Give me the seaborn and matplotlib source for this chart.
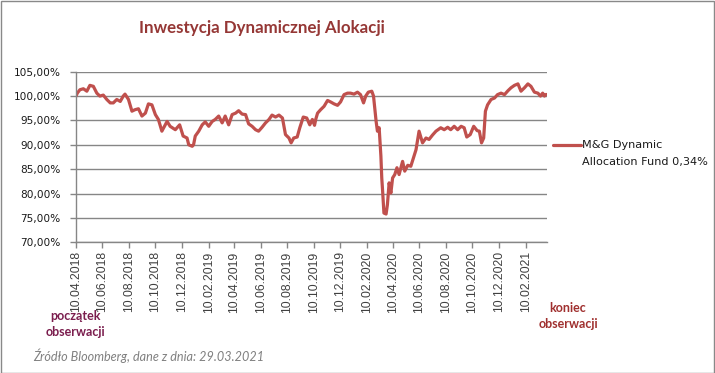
import matplotlib
matplotlib.use("Agg")
import matplotlib.pyplot as plt
import matplotlib.dates as mdates
from matplotlib.ticker import FuncFormatter, FixedLocator
from matplotlib.patches import Rectangle
from matplotlib.lines import Line2D
import seaborn as sns
import pandas as pd

# ---- data ----
dates = [
    "2018-04-10", "2018-04-13", "2018-04-19", "2018-04-27", "2018-05-05", "2018-05-12", "2018-05-20",
    "2018-05-28", "2018-06-04", "2018-06-12", "2018-06-20", "2018-06-28", "2018-07-05", "2018-07-13",
    "2018-07-21", "2018-07-28", "2018-08-01", "2018-08-09", "2018-08-17", "2018-08-24", "2018-09-01",
    "2018-09-09", "2018-09-17", "2018-09-24", "2018-10-02", "2018-10-10", "2018-10-17", "2018-10-25",
    "2018-11-06", "2018-11-13", "2018-11-25", "2018-12-05", "2018-12-13", "2018-12-22", "2018-12-26",
    "2019-01-03", "2019-01-06", "2019-01-10", "2019-01-18", "2019-01-26", "2019-02-02", "2019-02-10",
    "2019-02-18", "2019-02-25", "2019-03-05", "2019-03-13", "2019-03-20", "2019-03-28", "2019-04-05",
    "2019-04-13", "2019-04-20", "2019-04-28", "2019-05-06", "2019-05-13", "2019-05-21", "2019-05-29",
    "2019-06-05", "2019-06-13", "2019-06-21", "2019-06-29", "2019-07-06", "2019-07-14", "2019-07-22",
    "2019-07-30", "2019-08-06", "2019-08-14", "2019-08-19", "2019-08-25", "2019-09-02", "2019-09-08",
    "2019-09-16", "2019-09-24", "2019-10-01", "2019-10-07", "2019-10-12", "2019-10-15", "2019-10-19",
    "2019-10-26", "2019-11-03", "2019-11-11", "2019-11-18", "2019-11-26", "2019-12-04", "2019-12-11",
    "2019-12-19", "2019-12-27", "2020-01-03", "2020-01-11", "2020-01-19", "2020-01-26", "2020-02-02",
    "2020-02-07", "2020-02-13", "2020-02-21", "2020-02-25", "2020-03-02", "2020-03-05", "2020-03-09",
    "2020-03-13", "2020-03-15", "2020-03-17", "2020-03-20", "2020-03-25", "2020-03-28", "2020-04-01",
    "2020-04-05", "2020-04-09", "2020-04-14", "2020-04-19", "2020-04-24", "2020-05-02", "2020-05-07",
    "2020-05-14", "2020-05-21", "2020-05-27", "2020-06-02", "2020-06-06", "2020-06-09", "2020-06-17",
    "2020-06-25", "2020-07-02", "2020-07-10", "2020-07-18", "2020-07-29", "2020-08-06", "2020-08-14",
    "2020-08-21", "2020-08-29", "2020-09-06", "2020-09-14", "2020-09-21", "2020-09-27", "2020-10-05",
    "2020-10-13", "2020-10-21", "2020-10-26", "2020-10-31", "2020-11-05", "2020-11-09", "2020-11-14",
    "2020-11-22", "2020-11-30", "2020-12-07", "2020-12-15", "2020-12-23", "2020-12-31", "2021-01-07",
    "2021-01-15", "2021-01-23", "2021-01-30", "2021-02-07", "2021-02-15", "2021-02-22", "2021-03-02",
    "2021-03-10", "2021-03-16", "2021-03-21", "2021-03-25", "2021-03-29",
]
values = [
    100.0, 100.6, 101.3, 101.5, 101.0, 102.2, 102.0,
    100.6, 100.0, 100.2, 99.3, 98.6, 98.6, 99.3,
    98.9, 100.0, 100.4, 99.3, 96.9, 97.2, 97.4,
    95.9, 96.5, 98.4, 98.2, 96.2, 95.2, 92.8,
    94.8, 93.8, 93.1, 94.1, 91.8, 91.4, 90.0,
    89.7, 90.0, 91.8, 92.8, 94.1, 94.7, 93.8,
    94.8, 95.2, 95.9, 94.5, 95.9, 94.1, 96.2,
    96.5, 97.0, 96.3, 96.2, 94.3, 93.8, 93.1,
    92.8, 93.6, 94.5, 95.2, 96.1, 95.7, 96.1,
    95.5, 92.1, 91.4, 90.4, 91.4, 91.6, 93.5,
    95.7, 95.5, 94.1, 95.2, 94.0, 95.3, 96.5,
    97.2, 97.9, 99.1, 98.8, 98.4, 98.1, 98.8,
    100.3, 100.6, 100.6, 100.4, 100.8, 100.3, 98.6,
    100.0, 100.8, 101.0, 100.0, 94.8, 92.8, 93.5,
    87.7, 83.2, 80.5, 76.0, 75.8, 77.7, 82.2,
    80.1, 83.2, 83.9, 85.3, 83.9, 86.6, 84.6,
    85.8, 85.6, 87.3, 89.0, 91.1, 92.8, 90.4,
    91.4, 91.1, 92.0, 92.8, 93.5, 93.1, 93.6,
    93.1, 93.8, 93.1, 93.8, 93.5, 91.6, 92.1,
    93.8, 92.9, 92.8, 90.4, 91.4, 96.9, 98.2,
    99.3, 99.6, 100.3, 100.6, 100.3, 101.1, 101.7,
    102.2, 102.5, 101.0, 101.7, 102.5, 102.0, 100.8,
    100.6, 100.0, 100.6, 100.0, 100.34,
]
legend_lines = ["M&G Dynamic", "Allocation Fund 0,34%"]
title = "Inwestycja Dynamicznej Alokacji"
y_ticks = [70, 75, 80, 85, 90, 95, 100, 105]
x_tick_dates = ["2018-04-10", "2018-06-10", "2018-08-10", "2018-10-10", "2018-12-10",
                "2019-02-10", "2019-04-10", "2019-06-10", "2019-08-10", "2019-10-10",
                "2019-12-10", "2020-02-10", "2020-04-10", "2020-06-10", "2020-08-10",
                "2020-10-10", "2020-12-10", "2021-02-10"]

df = pd.DataFrame({"date": pd.to_datetime(dates), "value": values})

sns.set_theme(style="white")
plt.rcParams["font.family"] = ["DejaVu Sans"]

W, H = 715, 373
fig = plt.figure(figsize=(W / 100, H / 100), dpi=100)
fig.patch.set_facecolor("white")

def fx(px):
    return px / W

def fy(py):
    return 1 - py / H

ax = fig.add_axes([fx(76), fy(242.3), fx(547) - fx(76), fy(71.7) - fy(242.3)])

line_color = "#C0504D"
sns.lineplot(data=df, x="date", y="value", ax=ax, color=line_color, linewidth=2.3,
             legend=False)

ax.set_ylim(70, 105)
ax.set_xlim(pd.Timestamp("2018-04-10"), pd.Timestamp("2021-03-31"))
ax.yaxis.set_major_locator(FixedLocator(y_ticks))
ax.yaxis.set_major_formatter(FuncFormatter(lambda v, p: f"{v:.2f}%".replace(".", ",")))
xt = pd.to_datetime(x_tick_dates)
ax.set_xticks(mdates.date2num(xt))
ax.set_xticklabels([d.strftime("%d.%m.%Y") for d in xt], rotation=90,
                   fontsize=8.7, color="#404040", family="Liberation Sans")
for lab in ax.get_yticklabels():
    lab.set_fontsize(7.6)
    lab.set_color("#1a1a1a")

ax.set_xlabel("")
ax.set_ylabel("")
ax.grid(axis="y", color="#868686", linewidth=1.0)
ax.grid(axis="x", visible=False)
ax.set_axisbelow(True)
for s in ["top", "right"]:
    ax.spines[s].set_visible(False)
for s in ["left", "bottom"]:
    ax.spines[s].set_color("#868686")
    ax.spines[s].set_linewidth(1.0)
ax.tick_params(axis="both", which="major", direction="out", length=4.5, width=1,
               color="#868686", left=True, bottom=True)
ax.tick_params(axis="y", pad=6.5)
ax.tick_params(axis="x", pad=2)

# title
fig.text(fx(262), fy(33), title, ha="center", va="baseline", fontsize=12.2,
         fontweight="bold", color="#953735", family=["Lato", "DejaVu Sans"])

# legend (manual)
fig.add_artist(Line2D([fx(553), fx(581)], [fy(145.5), fy(145.5)], color=line_color,
                      linewidth=2.3))
fig.text(fx(582), fy(145.5), legend_lines[0], ha="left", va="center", fontsize=8.1,
         color="#1a1a1a")
fig.text(fx(582), fy(162), legend_lines[1], ha="left", va="center", fontsize=8.1,
         color="#1a1a1a")

# annotations
fig.text(fx(75.5), fy(316.5), "początek", ha="center", va="center",
         fontsize=9.0, fontweight="bold", color="#7B1E4E", family=["Lato", "DejaVu Sans"])
fig.text(fx(75.5), fy(332), "obserwacji", ha="center", va="center",
         fontsize=9.0, fontweight="bold", color="#7B1E4E", family=["Lato", "DejaVu Sans"])
fig.text(fx(568), fy(308.5), "koniec", ha="center", va="center",
         fontsize=9.0, fontweight="bold", color="#A0302F", family=["Lato", "DejaVu Sans"])
fig.text(fx(568), fy(323.5), "obserwacji", ha="center", va="center",
         fontsize=9.0, fontweight="bold", color="#A0302F", family=["Lato", "DejaVu Sans"])
fig.text(fx(33), fy(356), "Źródło Bloomberg, dane z dnia: 29.03.2021", ha="left",
         va="center", fontsize=9.1, fontstyle="italic", color="#808080",
         family=["Lato", "DejaVu Sans"])

# frame around the figure
fig.add_artist(Rectangle((0.5 / W, 0.5 / H), 1 - 1.5 / W, 1 - 1.5 / H,
                         transform=fig.transFigure, fill=False,
                         edgecolor="#898989", linewidth=1.0))

fig.savefig("out.png", dpi=100)
